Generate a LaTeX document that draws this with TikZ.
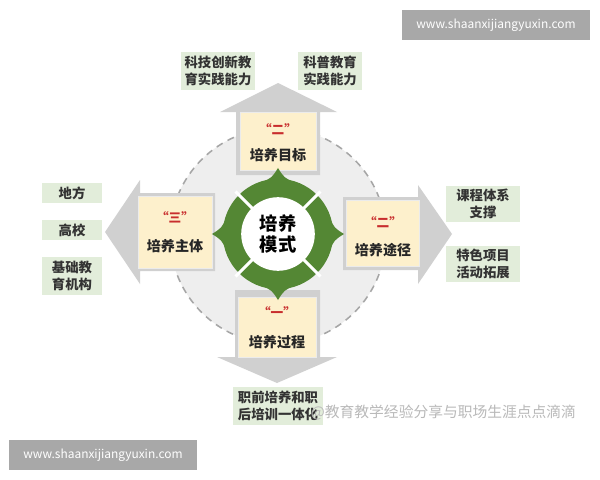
\documentclass[tikz,border=0pt]{standalone}
\usepackage{fontspec}
\setmainfont{Noto Sans CJK SC}
\usetikzlibrary{calc}
\definecolor{ringgreen}{RGB}{84,135,52}
\definecolor{goalyellow}{RGB}{253,240,204}
\definecolor{taggreen}{RGB}{226,237,218}
\definecolor{arrowgray}{RGB}{208,208,208}
\definecolor{numred}{RGB}{200,45,45}
\definecolor{urlgray}{RGB}{168,168,168}

\begin{document}
\begin{tikzpicture}[x=0.025cm, y=-0.025cm,
    tag/.style={fill=taggreen, align=center, inner sep=2pt, text=black!80, font=\fontsize{9.5}{12.5}\selectfont\bfseries},
    goalbox/.style={fill=goalyellow, draw=black!8},
    numtext/.style={text=numred, font=\fontsize{9}{10}\selectfont\bfseries},
    goaltitle/.style={text=black!85, font=\fontsize{10}{12}\selectfont\bfseries},
    urlbox/.style={fill=urlgray, text=white, minimum width=4.68cm, minimum height=0.75cm, font=\fontsize{8.5}{10}\selectfont}]
    \useasboundingbox[fill=white] (0,0) rectangle (600,480);
    \coordinate (c) at (278,234);

    \filldraw [fill=gray!13, draw=gray!70, dashed, line width=1.1pt, dash pattern=on 5pt off 4pt] (278,236) circle (2.7cm);

    \fill [arrowgray] (236,175) -- (236,112) -- (220,112) -- (278,83) -- (337,112) -- (320,112) -- (320,175) -- cycle;
    \fill [arrowgray] (215,193) -- (140,193) -- (140,180) -- (105,232) -- (140,284) -- (140,271) -- (215,271) -- cycle;
    \fill [arrowgray] (343,197) -- (418,197) -- (418,185) -- (452,234) -- (418,284) -- (418,270) -- (343,270) -- cycle;
    \fill [arrowgray] (235,290) -- (235,357) -- (217,357) -- (277,383) -- (337,357) -- (320,357) -- (320,290) -- cycle;

    \node [goalbox, minimum width=1.9cm, minimum height=1.45cm] (goal) at (278,141) {};
    \node [goalbox, minimum width=1.85cm, minimum height=1.8cm] (subject) at (175,232) {};
    \node [goalbox, minimum width=1.83cm, minimum height=1.65cm] (route) at (383,233) {};
    \node [goalbox, minimum width=1.95cm, minimum height=1.5cm] (process) at (277,327) {};

    \node [numtext] (goalnum) at (278,129) {“二”};
    \node [goaltitle] (goaltext) at (278,155) {培养目标};
    \node [numtext] (subjectnum) at (175,217) {“三”};
    \node [goaltitle] (subjecttext) at (175,246) {培养主体};
    \node [numtext] (routenum) at (383,222) {“二”};
    \node [goaltitle] (routetext) at (383,250) {培养途径};
    \node [numtext] (processnum) at (277,312) {“一”};
    \node [goaltitle] (processtext) at (277,342) {培养过程};

    \fill [ringgreen] (c) circle (1.38cm);
    \foreach \a in {0,90,180,270}
        \fill [ringgreen] ($(c)+(\a-18:1.35cm)$) .. controls ($(c)+(\a-6:1.42cm)$) .. ($(c)+(\a:1.65cm)$) .. controls ($(c)+(\a+6:1.42cm)$) .. ($(c)+(\a+18:1.35cm)$) -- cycle;
    \foreach \a in {45,135,225,315}
        \draw [white, line width=2.2pt] ($(c)+(\a:0.8cm)$) -- ($(c)+(\a:1.5cm)$);
    \node [circle, fill=white, minimum size=1.84cm, inner sep=0pt, align=center, font=\fontsize{13}{15}\selectfont\bfseries] (core) at (c) {培养\\模式};

    \node [tag, minimum width=1.83cm, minimum height=0.95cm] (tech) at (218,71) {科技创新教\\育实践能力};
    \node [tag, minimum width=1.6cm, minimum height=0.95cm] (popsci) at (330,71) {科普教育\\实践能力};
    \node [tag, minimum width=1.52cm, minimum height=0.5cm] (local) at (72,193) {地方};
    \node [tag, minimum width=1.52cm, minimum height=0.5cm] (college) at (72,230) {高校};
    \node [tag, minimum width=1.52cm, minimum height=0.95cm] (school) at (72,276) {基础教\\育机构};
    \node [tag, minimum width=1.83cm, minimum height=0.88cm] (course) at (483,204) {课程体系\\支撑};
    \node [tag, minimum width=1.83cm, minimum height=0.88cm] (project) at (483,264) {特色项目\\活动拓展};
    \node [tag, minimum width=2.25cm, minimum height=0.95cm] (train) at (278,406) {职前培养和职\\后培训一体化};

    \node [anchor=west, text=gray!55, font=\fontsize{10.5}{12}\selectfont] (mark) at (306,413) {@教育教学经验分享与职场生涯点点滴滴};
    \node [urlbox] (urltop) at (496,25) {www.shaanxijiangyuxin.com};
    \node [urlbox] (urlbottom) at (103,455) {www.shaanxijiangyuxin.com};
\end{tikzpicture}
\end{document}
